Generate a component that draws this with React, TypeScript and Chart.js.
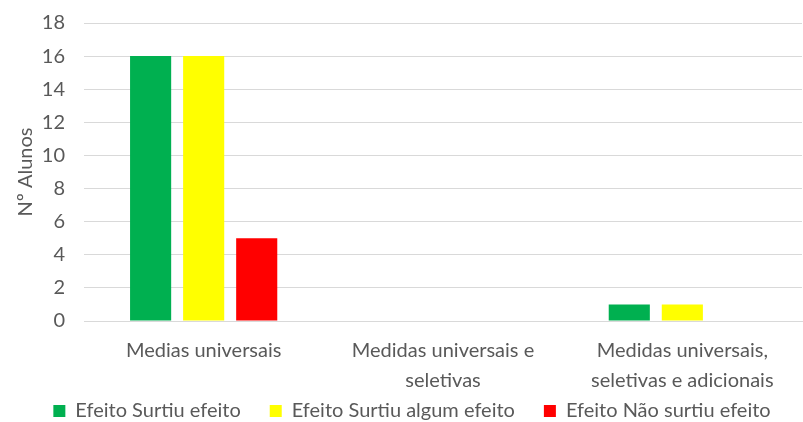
import React, { useEffect, useRef } from "react";
import { Chart, registerables } from "chart.js";

Chart.register(...registerables);

const categories: (string | string[])[] = [
  "Medias universais",
  ["Medidas universais e", "seletivas"],
  ["Medidas universais,", "seletivas e adicionais"],
];
const surtiuEfeito = [16, 0, 1];
const surtiuAlgumEfeito = [16, 0, 1];
const naoSurtiuEfeito = [5, 0, 0];
const seriesLabels = [
  "Efeito Surtiu efeito",
  "Efeito Surtiu algum efeito",
  "Efeito Não surtiu efeito",
];
const yAxisTitle = "Nº Alunos";

const FONT = "Lato, 'Open Sans', sans-serif";
const TEXT = "#595959";
const PLOT_BOTTOM = 321;
const LEGEND_DX = 11;
const LEGEND_TOP = 372;

export default function App() {
  const ref = useRef<HTMLCanvasElement | null>(null);
  useEffect(() => {
    document.body.style.margin = "0";
    const canvas = ref.current!;
    const legendShift = {
      id: "legendShift",
      afterLayout(chart: any) {
        const l = chart.legend;
        if (!l) return;
        l.left += LEGEND_DX;
        l.right += LEGEND_DX;
        l.top = LEGEND_TOP;
        l.bottom = chart.height;
      },
    };
    const chart = new Chart(canvas, {
      type: "bar",
      data: {
        labels: categories,
        datasets: [
          { label: seriesLabels[0], data: surtiuEfeito, backgroundColor: "#00B050" },
          { label: seriesLabels[1], data: surtiuAlgumEfeito, backgroundColor: "#FFFF00" },
          { label: seriesLabels[2], data: naoSurtiuEfeito, backgroundColor: "#FF0000" },
        ],
      },
      options: {
        responsive: false,
        animation: false,
        layout: { padding: { top: 23, left: 0, right: 1, bottom: 0 } },
        datasets: { bar: { categoryPercentage: 0.665, barPercentage: 0.775 } },
        plugins: {
          tooltip: { enabled: false },
          legend: {
            position: "bottom",
            align: "center",
            maxHeight: 24,
            labels: {
              boxWidth: 12,
              boxHeight: 12,
              padding: 29,
              color: TEXT,
              font: { family: FONT, size: 20 },
            },
          },
        },
        scales: {
          x: {
            grid: { display: false, drawTicks: false },
            border: { display: true, color: "#d9d9d9", width: 1 },
            ticks: {
              color: TEXT,
              font: { family: FONT, size: 20, lineHeight: 1.5 },
              padding: 15,
              maxRotation: 0,
              autoSkip: false,
            },
            afterFit: (s: any) => {
              const lh = s.chart.legend ? s.chart.legend.height : 0;
              s.height = s.chart.height - PLOT_BOTTOM - lh;
              s.paddingLeft = 0;
              s.paddingRight = 0;
            },
          },
          y: {
            min: 0,
            max: 18,
            ticks: {
              stepSize: 2,
              color: TEXT,
              font: { family: FONT, size: 20 },
              padding: 19,
            },
            grid: { color: "#d9d9d9", drawTicks: false },
            border: { display: false },
            title: {
              display: true,
              text: yAxisTitle,
              color: TEXT,
              font: { family: FONT, size: 20 },
              padding: { top: 14, bottom: 0 },
            },
            afterFit: (s: any) => {
              s.width = 84;
              s.paddingTop = 0;
              s.paddingBottom = 0;
            },
          },
        },
      },
      plugins: [legendShift],
    });
    return () => chart.destroy();
  }, []);
  return <canvas ref={ref} width={803} height={422} style={{ display: "block" }} />;
}
